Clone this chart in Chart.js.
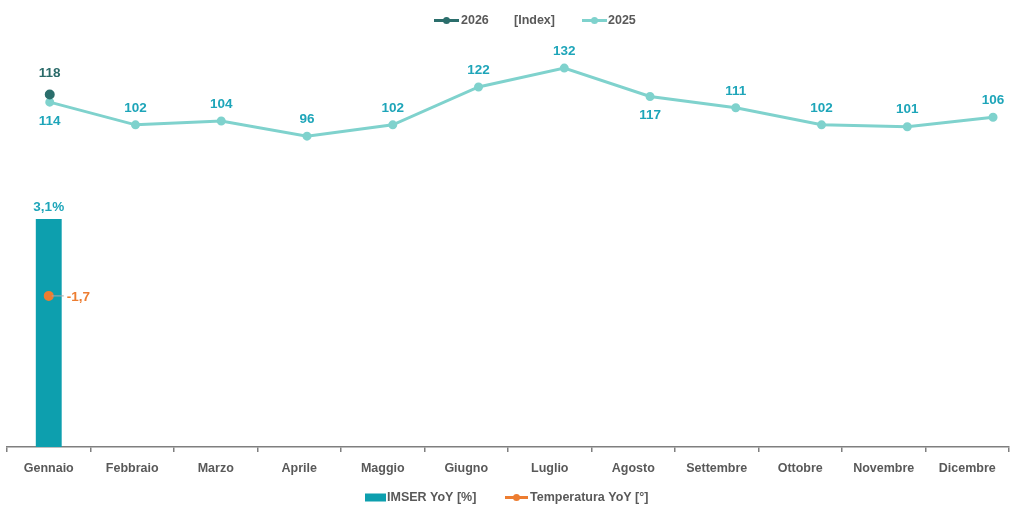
<!DOCTYPE html>
<html>
<head>
<meta charset="utf-8">
<script src="https://cdn.jsdelivr.net/npm/chart.js@4.4.1/dist/chart.umd.min.js"></script>
<style>
html,body{margin:0;padding:0;background:#fff;overflow:hidden;}
#wrap{position:relative;width:1016px;height:510px;}
</style>
</head>
<body>
<div id="wrap"><canvas id="c" width="1016" height="510"></canvas></div>
<script>
const months = ['Gennaio','Febbraio','Marzo','Aprile','Maggio','Giugno','Luglio','Agosto','Settembre','Ottobre','Novembre','Dicembre'];
const index2025 = [114,102,104,96,102,122,132,117,111,102,101,106];
const index2026 = [118];
const imserYoY = [3.1];
const tempYoY = [-1.7];
const labelBelow2025 = [true,false,false,false,false,false,false,true,false,false,false,false];

const FONT = "'Liberation Sans',Arial,sans-serif";
const C2025 = '#7fd2cd', C2026 = '#2b6e6c', CBAR = '#0d9fae', CTEMP = '#ed7d31';
const CLAB2025 = '#1ea5b9', CLAB2026 = '#2b6b6a', GREY = '#595959';

function fmt(v, d){ return v.toFixed(d).replace('.', ','); }

const labelPlugin = {
  id: 'labels',
  afterDatasetsDraw(chart){
    const ctx = chart.ctx;
    ctx.save();
    ctx.font = "bold 13.5px " + FONT;
    ctx.textAlign = 'center';
    ctx.textBaseline = 'middle';
    const m25 = chart.getDatasetMeta(1);
    m25.data.forEach((p,i)=>{
      ctx.fillStyle = CLAB2025;
      ctx.fillText(String(index2025[i]), p.x, labelBelow2025[i] ? p.y + 19 : p.y - 17);
    });
    const m26 = chart.getDatasetMeta(0);
    m26.data.forEach((p,i)=>{
      if (index2026[i] == null) return;
      ctx.fillStyle = CLAB2026;
      ctx.fillText(String(index2026[i]), p.x, p.y - 21);
    });
    const mb = chart.getDatasetMeta(3);
    mb.data.forEach((b,i)=>{
      ctx.fillStyle = CLAB2025;
      ctx.fillText(fmt(imserYoY[i],1) + '%', b.x, b.y - 12);
    });
    const mt = chart.getDatasetMeta(2);
    mt.data.forEach((p,i)=>{
      if (tempYoY[i] == null) return;
      ctx.strokeStyle = '#a6a6a6';
      ctx.lineWidth = 1;
      ctx.beginPath(); ctx.moveTo(p.x + 3, p.y); ctx.lineTo(p.x + 15, p.y); ctx.stroke();
      ctx.fillStyle = CTEMP;
      ctx.textAlign = 'left';
      ctx.fillText(fmt(tempYoY[i],1), p.x + 18, p.y + 1);
      ctx.textAlign = 'center';
    });
    ctx.restore();
  },
  afterDraw(chart){
    const ctx = chart.ctx;
    ctx.save();
    ctx.font = "bold 12.5px " + FONT;
    ctx.textBaseline = 'middle';
    function lineSym(x, y, w, color){
      ctx.strokeStyle = color; ctx.lineWidth = 3;
      ctx.beginPath(); ctx.moveTo(x, y); ctx.lineTo(x + w, y); ctx.stroke();
      ctx.fillStyle = color;
      ctx.beginPath(); ctx.arc(x + w/2, y, 3.5, 0, Math.PI*2); ctx.fill();
    }
    let y = 20.5;
    lineSym(434, y, 25, C2026);
    ctx.fillStyle = GREY; ctx.textAlign = 'left';
    ctx.fillText('2026', 461, y);
    ctx.fillText('[Index]', 514, y);
    lineSym(582, y, 25, C2025);
    ctx.fillStyle = GREY;
    ctx.fillText('2025', 608, y);
    y = 497.5;
    ctx.fillStyle = CBAR;
    ctx.fillRect(365, y - 4, 21, 8);
    ctx.fillStyle = GREY;
    ctx.fillText('IMSER YoY [%]', 387, y);
    lineSym(505, y, 23, CTEMP);
    ctx.fillStyle = GREY;
    ctx.fillText('Temperatura YoY [°]', 530, y);
    ctx.restore();
  }
};

new Chart(document.getElementById('c'), {
  data: {
    labels: months,
    datasets: [
      { type:'line', label:'2026', data: index2026.map((v,i)=>({x:i,y:v})), xAxisID:'x2', yAxisID:'yI',
        borderColor:C2026, backgroundColor:C2026, borderWidth:3, pointRadius:3.5, pointHoverRadius:3.5, order:0 },
      { type:'line', label:'2025', data: index2025.map((v,i)=>({x:i,y:v})), xAxisID:'x2', yAxisID:'yI',
        borderColor:C2025, backgroundColor:C2025, borderWidth:3, pointRadius:3, pointHoverRadius:3, tension:0, order:1 },
      { type:'line', label:'Temperatura YoY [°]', data: tempYoY, xAxisID:'x', yAxisID:'yT',
        borderColor:CTEMP, backgroundColor:CTEMP, borderWidth:3, pointRadius:3.5, order:1 },
      { type:'bar', label:'IMSER YoY [%]', data: imserYoY, xAxisID:'x', yAxisID:'y',
        backgroundColor:CBAR, borderWidth:0, barPercentage:0.31, categoryPercentage:1, grouped:false, order:3 }
    ]
  },
  options: {
    responsive:false, animation:false, events:[],
    layout:{ padding:{ left:7, right:1, top:10, bottom:25 } },
    plugins:{ legend:{display:false}, tooltip:{enabled:false} },
    scales:{
      x:{ type:'category', offset:true, position:'bottom',
          grid:{ display:true, drawOnChartArea:false, drawTicks:true, tickLength:5, color:'#7f7f7f', lineWidth:1.5, offset:true },
          border:{ display:true, color:'#7f7f7f', width:1.5 },
          ticks:{ color:GREY, font:{ family:FONT, size:12.5, weight:'bold' }, padding:9, maxRotation:0, autoSkip:false } },
      x2:{ type:'linear', display:false, min:-0.4984, max:11.186 },
      y:{ display:false, min:0, max:5.94 },
      yT:{ display:false, min:-3, max:0.76 },
      yI:{ display:false, min:-68.3, max:162.7 }
    }
  },
  plugins:[labelPlugin]
});
</script>
</body>
</html>
